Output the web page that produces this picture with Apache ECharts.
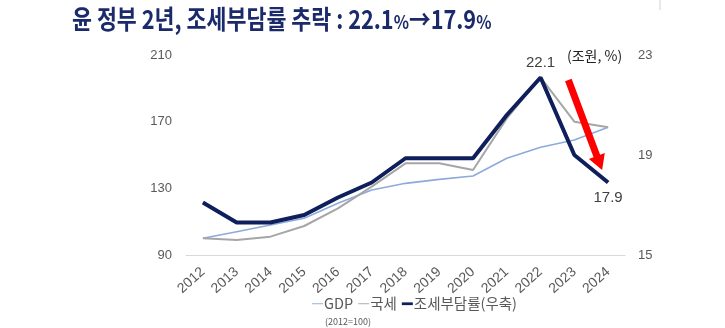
<!DOCTYPE html>
<html><head><meta charset="utf-8">
<script src="https://cdn.jsdelivr.net/npm/echarts@6/dist/echarts.min.js"></script>
<style>html,body{margin:0;padding:0;background:#fff}#c{width:725px;height:328px}</style>
</head><body><div id="c"></div>
<script>
var years = ['2012','2013','2014','2015','2016','2017','2018','2019','2020','2021','2022','2023','2024'];
var gdp = [100, 104, 108, 112, 121, 129, 133, 135.4, 137.4, 148, 154.6, 159, 166.6];
var tax = [100, 99, 101, 107.4, 118, 131, 145, 145, 141, 172, 196.6, 170, 166.6];
var burden = [17.1, 16.3, 16.3, 16.6, 17.3, 17.9, 18.87, 18.87, 18.87, 20.6, 22.1, 19.0, 17.9];
var leftTicks = [90, 130, 170, 210];
var rightTicks = [15, 19, 23];

var font = "'Noto Sans CJK KR', 'Noto Sans', sans-serif";
var latin = "'Liberation Sans', Arial, sans-serif";
var chart = echarts.init(document.getElementById('c'));
var burdenData = burden.map(function (v, i) {
  var d = { value: v };
  if (i === 10) d.label = { show: true, position: 'top', distance: 7 };
  if (i === 12) d.label = { show: true, position: 'bottom', distance: 8 };
  return d;
});
chart.setOption({
  animation: false,
  textStyle: { fontFamily: font },
  grid: { left: 186, right: 100, top: 55, bottom: 73 },
  xAxis: {
    type: 'category', data: years, boundaryGap: true,
    axisLine: { lineStyle: { color: '#d9d9d9' } },
    axisTick: { show: false },
    axisLabel: { rotate: 42, color: '#595959', fontSize: 14, margin: 15, fontFamily: latin }
  },
  yAxis: [
    { type: 'value', min: 90, max: 210, interval: 40,
      axisLine: { show: false }, axisTick: { show: false }, splitLine: { show: false },
      axisLabel: { color: '#595959', fontSize: 13, margin: 14, fontFamily: latin } },
    { type: 'value', min: 15, max: 23, interval: 4, position: 'right',
      axisLine: { show: false }, axisTick: { show: false }, splitLine: { show: false },
      axisLabel: { color: '#595959', fontSize: 13, margin: 13, fontFamily: latin } }
  ],
  legend: {
    bottom: 12, left: 307, itemGap: 5, itemWidth: 11, itemHeight: 4,
    textStyle: { color: '#595959', fontSize: 14.5, fontFamily: font, padding: [0, 0, 0, -4] },
    data: [
      { name: 'GDP', icon: 'path://M0,1.5H12V2.5H0Z' },
      { name: '국세', icon: 'path://M0,1.5H12V2.5H0Z' },
      { name: '조세부담률(우축)', icon: 'path://M0,0.5H12V3.5H0Z' }
    ]
  },
  series: [
    { name: 'GDP', type: 'line', data: gdp, yAxisIndex: 0, symbol: 'none',
      lineStyle: { color: '#8eaadb', width: 1.6 }, itemStyle: { color: '#8eaadb' }, z: 2 },
    { name: '국세', type: 'line', data: tax, yAxisIndex: 0, symbol: 'none',
      lineStyle: { color: '#a6a6a6', width: 2 }, itemStyle: { color: '#a6a6a6' }, z: 3 },
    { name: '조세부담률(우축)', type: 'line', data: burdenData, yAxisIndex: 1,
      symbol: 'circle', symbolSize: 0.1, showSymbol: true,
      lineStyle: { color: '#0e1f5b', width: 4 }, itemStyle: { color: '#0e1f5b' }, z: 4,
      label: { show: false, color: '#404040', fontSize: 15, fontFamily: latin } }
  ]
});

// annotations positioned from the chart's own scales
var p23top = chart.convertToPixel({ xAxisIndex: 0, yAxisIndex: 1 }, ['2023', 22.0]);
var p24bot = chart.convertToPixel({ xAxisIndex: 0, yAxisIndex: 1 }, ['2024', 18.4]);
var sx = p23top[0] - 6, sy = p23top[1];
var ex = p24bot[0] - 6, ey = p24bot[1];
var dx = ex - sx, dy = ey - sy, L = Math.sqrt(dx * dx + dy * dy);
var ux = dx / L, uy = dy / L, nx = -uy, ny = ux;
var hw = 3.5, hh = 8.5, hl = 15;
var bx = ex - ux * hl, by = ey - uy * hl;
var arrowPts = [
  [sx + nx * hw, sy + ny * hw], [bx + nx * hw, by + ny * hw], [bx + nx * hh, by + ny * hh],
  [ex, ey], [bx - nx * hh, by - ny * hh], [bx - nx * hw, by - ny * hw], [sx - nx * hw, sy - ny * hw]
];
chart.setOption({
  graphic: [
    { type: 'text', x: 72, y: 6, scaleX: 0.835, z: 20,
      style: {
        text: '윤 정부 2년, 조세부담률 추락 : 22.1{p|%}→17.9{p|%}',
        font: "bold 26px " + font, fill: '#1b2a6b',
        rich: { p: { fontFamily: font, fontSize: 19, fontWeight: 'bold', fill: '#1b2a6b', padding: [6, 0, 0, 0] } }
      } },
    { type: 'polygon', shape: { points: arrowPts }, style: { fill: '#ff0000' }, z: 10 },
    { type: 'text', left: 567, top: 49, style: { text: '(조원, %)', fontFamily: font, fontSize: 14, fontWeight: 'normal', fill: '#222' } },
    { type: 'text', left: 325, top: 317, style: { text: '(2012=100)', fontFamily: font, fontSize: 9, fill: '#595959' } },
    { type: 'line', shape: { x1: 660, y1: 0, x2: 660, y2: 10 }, style: { stroke: '#d0d0d0', lineWidth: 1 } }
  ]
});
</script></body></html>
